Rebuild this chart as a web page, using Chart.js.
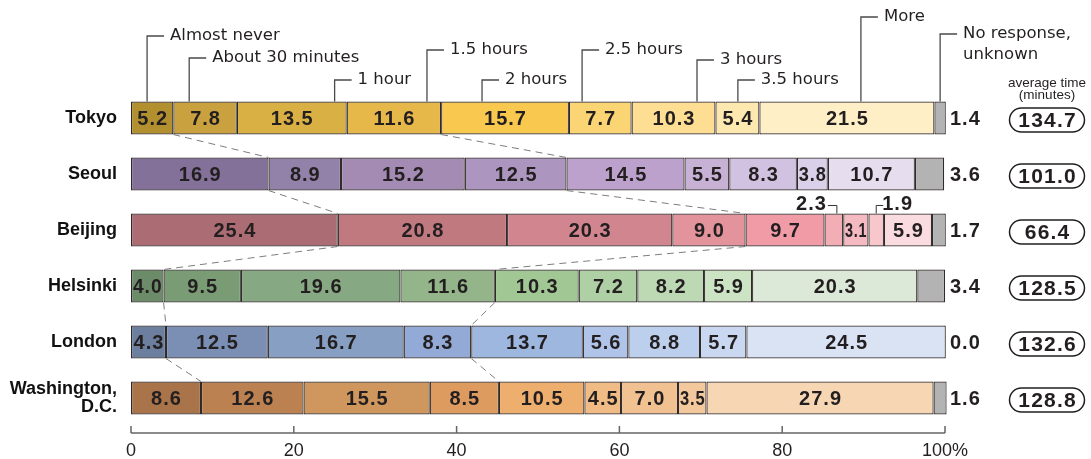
<!DOCTYPE html>
<html>
<head>
<meta charset="utf-8">
<script src="https://cdn.jsdelivr.net/npm/chart.js@4/dist/chart.umd.min.js"></script>
<style>
  html, body { margin: 0; padding: 0; background: #fff; }
  #wrap { width: 1091px; height: 459px; position: relative; }
</style>
</head>
<body>
<div id="wrap"><canvas id="c" width="1091" height="459"></canvas></div>
<script>
// ---- data ----
const cities = ['Tokyo', 'Seoul', 'Beijing', 'Helsinki', 'London', ['Washington,', 'D.C.']];
const categories = ['Almost never', 'About 30 minutes', '1 hour', '1.5 hours', '2 hours',
                    '2.5 hours', '3 hours', '3.5 hours', 'More', ['No response,', 'unknown']];
const almostNever    = [5.2, 16.9, 25.4, 4.0, 4.3, 8.6];
const about30Minutes = [7.8, 8.9, 20.8, 9.5, 12.5, 12.6];
const oneHour        = [13.5, 15.2, 20.3, 19.6, 16.7, 15.5];
const oneHalfHours   = [11.6, 12.5, 9.0, 11.6, 8.3, 8.5];
const twoHours       = [15.7, 14.5, 9.7, 10.3, 13.7, 10.5];
const twoHalfHours   = [7.7, 5.5, 2.3, 7.2, 5.6, 4.5];
const threeHours     = [10.3, 8.3, 3.1, 8.2, 8.8, 7.0];
const threeHalfHours = [5.4, 3.8, 1.9, 5.9, 5.7, 3.5];
const more           = [21.5, 10.7, 5.9, 20.3, 24.5, 27.9];
const noResponse     = [1.4, 3.6, 1.7, 3.4, 0.0, 1.6];
const averageTime    = [134.7, 101.0, 66.4, 128.5, 132.6, 128.8];
const xTickValues    = [0, 20, 40, 60, 80, 100];

// ---- styles ----
const palette = [
  ['#b3902f', '#c9a23f', '#d9b044', '#e5b849', '#f8c84f', '#fbd474', '#fdde93', '#fde8b0', '#feefc6', '#b3b3b3'],
  ['#83719a', '#9281a8', '#a38bb3', '#ac95be', '#bba1cc', '#c7b2d6', '#d2c2e2', '#dbd0e9', '#e6ddef', '#b3b3b3'],
  ['#ab6d73', '#c17980', '#d1858f', '#e3939c', '#f09ba6', '#f3adb4', '#f5bac1', '#f7c7cc', '#fadbdf', '#b3b3b3'],
  ['#6c8c69', '#7a9c75', '#86a882', '#93b589', '#a0c794', '#afd0a4', '#bdd9b3', '#cce4c3', '#dde9d8', '#b3b3b3'],
  ['#6c7f9e', '#7a8fb3', '#879fc3', '#93aad6', '#9eb7df', '#afc4e8', '#bccfec', '#c9d8f0', '#d9e3f3', '#b3b3b3'],
  ['#a9744a', '#bb8151', '#cf965e', '#de9b60', '#eeae6d', '#f0bb84', '#f2c191', '#f3c89c', '#f7d6b4', '#b3b3b3']
];
// category-label leaders: relative position inside Tokyo's segment, and label height
const leaderFrac = [0.38, 0.25, 0.89, 0.85, 0.32, 0.21, 0.78, 0.51, 0.58, 0.5];
const leaderY    = [36, 58, 80, 50, 80, 50, 60, 80, 17, 34];
const connectAfter = [0, 3]; // dashed connectors after these segments

const seriesValues = [almostNever, about30Minutes, oneHour, oneHalfHours, twoHours,
                      twoHalfHours, threeHours, threeHalfHours, more, noResponse];

const datasets = seriesValues.map((vals, k) => ({
  label: Array.isArray(categories[k]) ? categories[k].join(' ') : categories[k],
  data: vals,
  backgroundColor: palette.map(row => row[k]),
  borderColor: '#302a2a',
  borderWidth: 1.2,
  borderSkipped: false,
  clip: false
}));

const FONT_NUM = '"Liberation Sans", Arial, sans-serif';
const FONT_TXT = '"DejaVu Sans", sans-serif';
const INK = '#231f20';

const overlay = {
  id: 'overlay',
  afterDatasetsDraw(chart) {
    const ctx = chart.ctx;
    const xs = chart.scales.x;
    const area = chart.chartArea;
    const metas = datasets.map((d, k) => chart.getDatasetMeta(k));
    const nRows = cities.length;
    const nSeg = datasets.length;

    // dashed connectors
    ctx.save();
    ctx.strokeStyle = '#7d7d7d';
    ctx.lineWidth = 1;
    ctx.setLineDash([7, 5]);
    for (let i = 0; i < nRows - 1; i++) {
      connectAfter.forEach(k => {
        const a = metas[k].data[i], b = metas[k].data[i + 1];
        ctx.beginPath();
        ctx.moveTo(a.x, a.y + a.height / 2);
        ctx.lineTo(b.x, b.y - b.height / 2);
        ctx.stroke();
      });
    }
    ctx.restore();

    // segment value labels
    ctx.save();
    ctx.fillStyle = INK;
    ctx.font = 'bold 20px ' + FONT_NUM;
    ctx.letterSpacing = '1px';
    ctx.textBaseline = 'middle';
    for (let i = 0; i < nRows; i++) {
      let smallSide = 0;
      for (let k = 0; k < nSeg - 1; k++) {
        const el = metas[k].data[i];
        const v = seriesValues[k][i];
        const w = el.x - el.base;
        const txt = v.toFixed(1);
        const cx = (el.x + el.base) / 2;
        const top = el.y - el.height / 2;
        if (v < 2.5) {
          ctx.save();
          ctx.strokeStyle = '#333';
          ctx.lineWidth = 1;
          const lx = cx + (smallSide === 0 ? 3 : 0);
          const ly = top - 8;
          ctx.beginPath();
          ctx.moveTo(lx, top);
          ctx.lineTo(lx, ly);
          if (smallSide === 0) {
            ctx.lineTo(lx - 9, ly);
            ctx.stroke();
            ctx.textAlign = 'right';
            ctx.fillText(txt, lx - 10, ly - 1);
          } else {
            ctx.lineTo(lx + 7, ly);
            ctx.stroke();
            ctx.textAlign = 'left';
            ctx.fillText(txt, lx + 6, ly - 1);
          }
          ctx.restore();
          smallSide++;
        } else {
          ctx.textAlign = 'center';
          const tw = ctx.measureText(txt).width;
          if (tw > w - 3) {
            ctx.save();
            ctx.translate(cx, el.y + 1);
            ctx.scale((w - 3) / tw, 1);
            ctx.fillText(txt, 0.5, 0);
            ctx.restore();
          } else {
            ctx.fillText(txt, cx + 0.5, el.y + 1);
          }
        }
      }
      // no-response value on the right
      const elN = metas[nSeg - 1].data[i];
      ctx.textAlign = 'left';
      ctx.fillText(noResponse[i].toFixed(1), area.right + 5, elN.y + 1);

      // average time pill
      const px = 1047, py = elN.y + 2, pw = 75, ph = 24;
      ctx.save();
      ctx.beginPath();
      ctx.roundRect(px - pw / 2, py - ph / 2, pw, ph, ph / 2);
      ctx.fillStyle = '#fff';
      ctx.fill();
      ctx.lineWidth = 1.5;
      ctx.strokeStyle = INK;
      ctx.stroke();
      ctx.fillStyle = INK;
      ctx.font = 'bold 21px ' + FONT_NUM;
      ctx.letterSpacing = '1.2px';
      ctx.textAlign = 'center';
      ctx.fillText(averageTime[i].toFixed(1), px + 0.6, py + 1);
      ctx.restore();
    }
    ctx.restore();

    // header for average time
    ctx.save();
    ctx.fillStyle = INK;
    ctx.font = '13.5px "Liberation Sans", Arial, sans-serif';
    ctx.textAlign = 'center';
    ctx.textBaseline = 'middle';
    ctx.fillText('average time', 1047, 83);
    ctx.fillText('(minutes)', 1047, 95);
    ctx.restore();

    // category leaders above Tokyo bar
    ctx.save();
    ctx.strokeStyle = '#4a4a4a';
    ctx.lineWidth = 1.3;
    ctx.fillStyle = INK;
    ctx.font = '16.5px ' + FONT_TXT;
    ctx.textAlign = 'left';
    ctx.textBaseline = 'middle';
    for (let k = 0; k < nSeg; k++) {
      const el = metas[k].data[0];
      const lx = el.base + leaderFrac[k] * (el.x - el.base);
      const top = el.y - el.height / 2;
      const ly = leaderY[k];
      ctx.beginPath();
      ctx.moveTo(lx, top);
      ctx.lineTo(lx, ly);
      ctx.lineTo(lx + 17, ly);
      ctx.stroke();
      const lines = Array.isArray(categories[k]) ? categories[k] : [categories[k]];
      lines.forEach((t, j) => ctx.fillText(t, lx + 23, ly + j * 21));
    }
    ctx.restore();

    // bottom axis: baseline with upward ticks
    ctx.save();
    ctx.strokeStyle = '#666';
    ctx.lineWidth = 1.5;
    const ay = area.bottom + 7;
    ctx.beginPath();
    ctx.moveTo(xs.getPixelForValue(0), ay);
    ctx.lineTo(xs.getPixelForValue(100), ay);
    xTickValues.forEach(v => {
      const tx = xs.getPixelForValue(v);
      ctx.moveTo(tx, ay);
      ctx.lineTo(tx, ay - 7);
    });
    ctx.stroke();
    ctx.restore();
  }
};

new Chart(document.getElementById('c'), {
  type: 'bar',
  data: { labels: cities, datasets },
  options: {
    indexAxis: 'y',
    responsive: false,
    animation: false,
    layout: { padding: { top: 90, right: 146, left: 0, bottom: 0 } },
    categoryPercentage: 1,
    barPercentage: 0.59,
    plugins: { legend: { display: false }, tooltip: { enabled: false }, title: { display: false } },
    scales: {
      x: {
        stacked: true,
        min: 0, max: 100,
        afterFit(s) { s.height = 33; },
        afterBuildTicks(s) { s.ticks = xTickValues.map(v => ({ value: v })); },
        grid: { display: false, drawTicks: false },
        border: { display: false },
        ticks: {
          padding: 14,
          color: INK,
          font: { family: 'Liberation Sans', size: 18 },
          maxRotation: 0,
          callback: v => v === 100 ? '100%' : String(v)
        }
      },
      y: {
        stacked: true,
        afterFit(s) { s.width = 131; },
        grid: { display: false, drawTicks: false },
        border: { display: false },
        ticks: {
          padding: 14,
          color: '#111',
          font: { family: 'Liberation Sans', size: 18, weight: 'bold', lineHeight: 1.05 }
        }
      }
    }
  },
  plugins: [overlay]
});
</script>
</body>
</html>
